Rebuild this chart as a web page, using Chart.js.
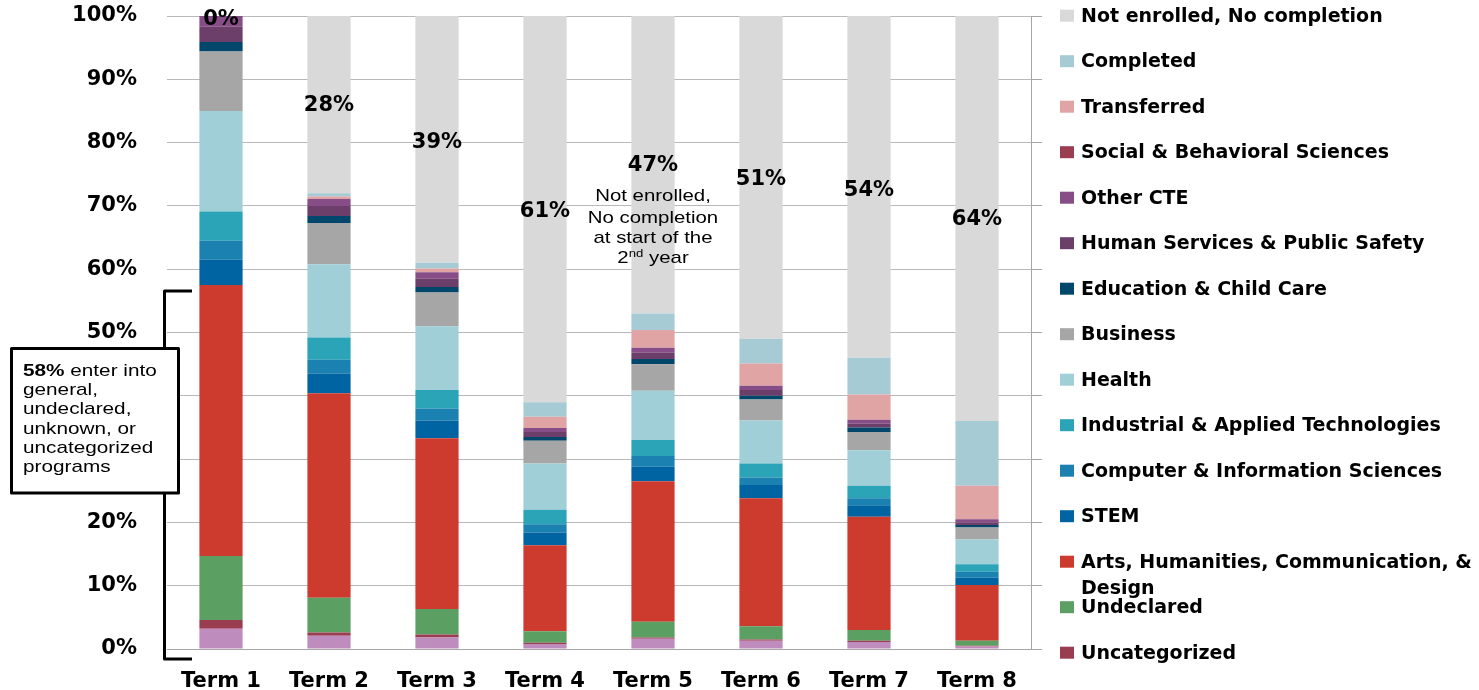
<!DOCTYPE html>
<html>
<head>
<meta charset="utf-8">
<title>Program pathways by term</title>
<script src="https://cdn.jsdelivr.net/npm/chart.js@4/dist/chart.umd.min.js"></script>
<style>
  html, body { margin: 0; padding: 0; background: #ffffff; }
  #wrap { width: 1479px; height: 690px; position: relative; }
</style>
</head>
<body>
<div id="wrap"><canvas id="chart" width="1479" height="690"></canvas></div>
<script>
// Share of the entering cohort in each status, by term (percent)
const terms = ['Term 1', 'Term 2', 'Term 3', 'Term 4', 'Term 5', 'Term 6', 'Term 7', 'Term 8'];

const unknown        = [3.2, 2.1, 1.8, 0.8, 1.6, 1.3, 1.1, 0.4];
const uncategorized  = [1.4, 0.5, 0.5, 0.2, 0.2, 0.2, 0.2, 0.1];
const undeclared     = [10.1, 5.5, 4.0, 1.8, 2.5, 2.1, 1.7, 0.8];
const arts           = [42.8, 32.3, 27.0, 13.6, 22.2, 20.2, 17.9, 8.8];
const stem           = [4.0, 3.1, 2.8, 2.0, 2.3, 2.1, 1.8, 1.2];
const computerInfo   = [3.0, 2.2, 1.9, 1.3, 1.7, 1.2, 1.1, 0.9];
const industrial     = [4.6, 3.5, 2.9, 2.3, 2.5, 2.2, 2.0, 1.2];
const health         = [15.9, 11.6, 10.1, 7.3, 7.8, 6.8, 5.6, 3.9];
const business       = [9.4, 6.5, 5.3, 3.6, 4.2, 3.3, 2.9, 1.9];
const education      = [1.5, 1.1, 0.9, 0.6, 0.8, 0.6, 0.7, 0.4];
const humanServices  = [2.4, 1.6, 1.3, 0.8, 1.0, 0.9, 0.6, 0.4];
const otherCte       = [1.7, 1.1, 1.0, 0.6, 0.8, 0.7, 0.6, 0.5];
const socialSciences = [0, 0, 0, 0, 0, 0, 0, 0];
const transferred    = [0, 0.4, 0.6, 1.8, 2.8, 3.5, 4.0, 5.3];
const completed      = [0, 0.5, 0.9, 2.3, 2.6, 3.9, 5.8, 10.2];
const notEnrolled    = [0, 28, 39, 61, 47, 51, 54, 64];

const yTicks = [0, 10, 20, 30, 40, 50, 60, 70, 80, 90, 100];

// Series, bottom of the stack first
const series = [
  { label: 'Unknown', data: unknown, color: '#bf8dbd' },
  { label: 'Uncategorized', data: uncategorized, color: '#9b3d50' },
  { label: 'Undeclared', data: undeclared, color: '#5ba062' },
  { label: 'Arts, Humanities, Communication, & Design', data: arts, color: '#cd3a2e' },
  { label: 'STEM', data: stem, color: '#0064a3' },
  { label: 'Computer & Information Sciences', data: computerInfo, color: '#1b81b0' },
  { label: 'Industrial & Applied Technologies', data: industrial, color: '#2aa4b6' },
  { label: 'Health', data: health, color: '#a1cfd8' },
  { label: 'Business', data: business, color: '#a6a6a6' },
  { label: 'Education & Child Care', data: education, color: '#00476b' },
  { label: 'Human Services & Public Safety', data: humanServices, color: '#6b3f69' },
  { label: 'Other CTE', data: otherCte, color: '#874d87' },
  { label: 'Social & Behavioral Sciences', data: socialSciences, color: '#9b3d50' },
  { label: 'Transferred', data: transferred, color: '#e0a4a4' },
  { label: 'Completed', data: completed, color: '#a6cbd4' },
  { label: 'Not enrolled, No completion', data: notEnrolled, color: '#d9d9d9' }
];

const BOLD = 'bold 21px "DejaVu Sans"';

// Draws the stretched Arial-style text used by the call-outs
function wideText(ctx, parts, x, y, align, stretch) {
  ctx.save();
  ctx.translate(x, y);
  ctx.scale(stretch, 1);
  let total = 0;
  parts.forEach(p => { ctx.font = p.font; total += ctx.measureText(p.text).width; });
  let cx = align === 'center' ? -total / 2 : 0;
  ctx.textAlign = 'left';
  parts.forEach(p => {
    ctx.font = p.font;
    ctx.fillText(p.text, cx, p.dy || 0);
    cx += ctx.measureText(p.text).width;
  });
  ctx.restore();
}

const overlays = {
  id: 'overlays',
  afterDatasetsDraw(chart, args, opts) {
    const ctx = chart.ctx;
    const yScale = chart.scales.y;
    const topMeta = chart.getDatasetMeta(series.length - 1);
    ctx.save();
    ctx.fillStyle = '#000';
    ctx.font = BOLD;
    ctx.textAlign = 'center';
    ctx.textBaseline = 'middle';
    notEnrolled.forEach((v, i) => {
      const bx = topMeta.data[i].x;
      ctx.fillText(v + '%', bx, yScale.getPixelForValue(opts.labelAt[i]));
    });

    // note under the Term 5 label
    const nx = topMeta.data[4].x;
    const reg = '17px "Liberation Sans"';
    const sup = '11px "Liberation Sans"';
    ctx.textBaseline = 'alphabetic';
    wideText(ctx, [{ text: 'Not enrolled,', font: reg }], nx, 201, 'center', 1.2);
    wideText(ctx, [{ text: 'No completion', font: reg }], nx, 223, 'center', 1.2);
    wideText(ctx, [{ text: 'at start of the', font: reg }], nx, 243, 'center', 1.2);
    wideText(ctx, [{ text: '2', font: reg }, { text: 'nd', font: sup, dy: -6 }, { text: ' year', font: reg }], nx, 263, 'center', 1.2);
    ctx.restore();
  },
  afterDraw(chart) {
    const ctx = chart.ctx;
    ctx.save();

    // bracket around the first bar's general programs
    ctx.strokeStyle = '#000';
    ctx.lineWidth = 3;
    ctx.lineJoin = 'round';
    ctx.beginPath();
    ctx.moveTo(192, 291);
    ctx.lineTo(164.5, 291);
    ctx.lineTo(164.5, 659);
    ctx.lineTo(192, 659);
    ctx.stroke();

    // call-out box
    ctx.fillStyle = '#fff';
    ctx.fillRect(11.5, 348.5, 167, 144.5);
    ctx.strokeRect(11.5, 348.5, 167, 144.5);
    ctx.fillStyle = '#000';
    ctx.textBaseline = 'alphabetic';
    const reg = '17px "Liberation Sans"';
    const bold = 'bold 17px "Liberation Sans"';
    const lines = [
      [{ text: '58%', font: bold }, { text: ' enter into', font: reg }],
      [{ text: 'general,', font: reg }],
      [{ text: 'undeclared,', font: reg }],
      [{ text: 'unknown, or', font: reg }],
      [{ text: 'uncategorized', font: reg }],
      [{ text: 'programs', font: reg }]
    ];
    lines.forEach((ln, k) => wideText(ctx, ln, 23, 376 + k * 19.2, 'left', 1.22));

    // legend, top of the stack first; entries past the canvas edge are left off
    ctx.font = 'bold 19px "DejaVu Sans"';
    ctx.textAlign = 'left';
    ctx.textBaseline = 'middle';
    const maxW = 1479 - 1081 - 2;
    for (let i = 0; i < series.length; i++) {
      const s = series[series.length - 1 - i];
      const cy = 15.7 + 45.5 * i;
      if (cy + 12 > chart.height) continue;
      ctx.fillStyle = s.color;
      ctx.fillRect(1060, cy - 6, 14, 12);
      ctx.fillStyle = '#000';
      // wrap long names onto a second line
      const words = s.label.split(' ');
      const rows = [];
      let cur = '';
      words.forEach(w => {
        const t = cur ? cur + ' ' + w : w;
        if (ctx.measureText(t).width > maxW && cur) { rows.push(cur); cur = w; }
        else cur = t;
      });
      rows.push(cur);
      rows.forEach((r, k) => ctx.fillText(r, 1081, cy + 1 + k * 26));
    }
    ctx.restore();
  }
};

new Chart(document.getElementById('chart'), {
  type: 'bar',
  data: {
    labels: terms,
    datasets: series.map(s => ({
      label: s.label,
      data: s.data,
      backgroundColor: s.color,
      borderWidth: 0,
      categoryPercentage: 1,
      barPercentage: 0.4
    }))
  },
  options: {
    responsive: false,
    animation: false,
    layout: { padding: { top: 16, right: 0, bottom: 0, left: 0 } },
    plugins: {
      legend: { display: false },
      tooltip: { enabled: false },
      overlays: { labelAt: [99.4, 85.8, 80.0, 69.1, 76.4, 74.2, 72.5, 67.8] }
    },
    scales: {
      x: {
        stacked: true,
        grid: { display: false, drawTicks: false },
        border: { color: '#a6a6a6', width: 1 },
        ticks: { color: '#000', font: { family: 'DejaVu Sans', weight: 'bold', size: 21 }, padding: 20 },
        afterFit(s) { s.height = 41; }
      },
      y: {
        stacked: true,
        min: 0,
        max: 100,
        afterBuildTicks(s) { s.ticks = yTicks.map(v => ({ value: v })); },
        ticks: { color: '#000', font: { family: 'DejaVu Sans', weight: 'bold', size: 21 }, padding: 30, callback: v => v + '%' },
        grid: { color: '#b8b8b8', drawTicks: false },
        border: { display: false },
        afterFit(s) { s.width = 167; s.paddingTop = 0; s.paddingBottom = 0; }
      },
      y2: {
        position: 'right',
        min: 0,
        max: 100,
        afterBuildTicks(s) { s.ticks = yTicks.map(v => ({ value: v })); },
        ticks: { display: false },
        grid: { drawOnChartArea: false, drawTicks: true, tickLength: 11, color: '#a6a6a6' },
        border: { color: '#a6a6a6', width: 1 },
        afterFit(s) { s.width = 448; s.paddingTop = 0; s.paddingBottom = 0; }
      }
    }
  },
  plugins: [overlays]
});
</script>
</body>
</html>
